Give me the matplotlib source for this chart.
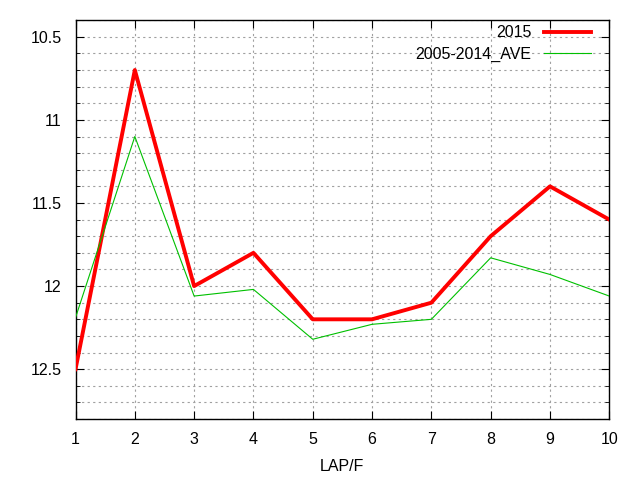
import matplotlib
matplotlib.use('Agg')
import matplotlib.pyplot as plt
from matplotlib.ticker import MultipleLocator

plt.rcParams['font.family'] = ['Liberation Sans', 'DejaVu Sans']

laps = [1, 2, 3, 4, 5, 6, 7, 8, 9, 10]
y2015 = [12.5, 10.7, 12.0, 11.8, 12.2, 12.2, 12.1, 11.7, 11.4, 11.6]
ave = [12.19, 11.1, 12.06, 12.02, 12.32, 12.23, 12.2, 11.83, 11.93, 12.06]

fig = plt.figure(figsize=(6.4, 4.8), dpi=100)
ax = fig.add_axes([0.118, 0.127, 0.834, 0.831])

ax.plot(laps, y2015, color='#ff0000', lw=2.8, label='2015', zorder=3)
ax.plot(laps, ave, color='#00c000', lw=0.8, label='2005-2014_AVE', zorder=3)

ax.set_xlim(1, 10)
ax.set_ylim(12.8, 10.4)
ax.xaxis.set_major_locator(MultipleLocator(1))
ax.yaxis.set_major_locator(MultipleLocator(0.5))
ax.yaxis.set_minor_locator(MultipleLocator(0.1))
ax.yaxis.set_major_formatter(plt.FuncFormatter(lambda v, p: ('%g' % v)))

ax.grid(True, which='both', color='#a0a0a0', ls=(0, (2, 3)), lw=0.8)
ax.tick_params(which='both', direction='in', top=True, right=True,
               labelsize=11.5, color='black')
ax.tick_params(which='major', length=6)
ax.tick_params(which='minor', length=3)
ax.tick_params(axis='y', pad=10)
ax.tick_params(axis='x', pad=9)
for s in ax.spines.values():
    s.set_linewidth(1.0)

ax.set_xlabel('LAP/F', fontsize=11.5, labelpad=9)

leg = ax.legend(loc='upper right', bbox_to_anchor=(1 - 18 / 534, 1 - 5 / 399),
                frameon=False, markerfirst=False, fontsize=11.5,
                handlelength=2.95, handletextpad=0.8, labelspacing=0.4,
                borderaxespad=0, borderpad=0)

fig.savefig('out.png', dpi=100)
